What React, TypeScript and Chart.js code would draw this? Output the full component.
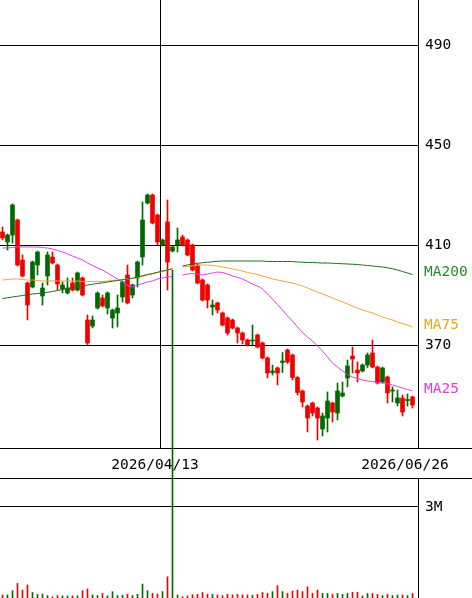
import React, { useEffect, useRef } from "react";
import { Chart, registerables } from "chart.js";

Chart.register(...registerables);

// ---- data (daily candles, oldest first) ----
const OPEN = [
  415.2, 411.2, 414.0, 420.0, 404.0, 394.8, 393.2, 402.0, 389.6, 397.6,
  405.2, 402.0, 392.4, 390.8, 394.8, 392.0, 396.8, 380.0, 377.6, 384.8,
  388.8, 384.8, 380.8, 382.8, 389.2, 398.0, 390.0, 396.8, 405.2, 426.8,
  430.0, 422.0, 410.0, 419.2, 407.6, 410.0, 413.2, 412.0, 410.0, 402.0,
  396.0, 394.0, 385.2, 386.8, 382.8, 380.8, 380.0, 376.8, 374.8, 372.0,
  371.6, 374.0, 370.8, 364.8, 359.0, 360.8, 363.0, 368.0, 366.0, 357.0,
  351.6, 345.6, 346.8, 344.8, 336.4, 340.8, 346.8, 342.8, 349.6, 356.8,
  365.6, 360.0, 359.6, 362.0, 366.8, 361.2, 355.2, 357.2, 351.6, 346.8,
  348.8, 347.8, 349.2,
];
const HIGH = [
  417.2, 414.4, 426.4, 420.4, 406.0, 395.2, 403.6, 407.6, 394.8, 407.2,
  407.2, 402.4, 395.2, 396.8, 396.8, 399.2, 397.2, 382.0, 381.6, 391.2,
  390.0, 391.2, 384.4, 390.0, 395.6, 402.0, 394.4, 403.6, 427.2, 430.4,
  430.4, 422.4, 412.4, 428.0, 409.6, 416.8, 414.0, 412.4, 410.4, 402.4,
  396.4, 394.4, 388.0, 387.2, 383.2, 381.2, 380.4, 377.2, 375.2, 372.4,
  378.0, 374.4, 371.2, 365.2, 362.0, 361.2, 367.0, 368.4, 366.4, 357.4,
  352.0, 346.0, 347.2, 345.2, 342.8, 351.2, 347.2, 354.8, 355.2, 364.0,
  369.2, 363.2, 362.4, 366.8, 372.0, 361.6, 361.2, 357.6, 353.2, 352.0,
  350.0, 350.4, 349.6,
];
const LOW = [
  412.0, 408.0, 410.8, 401.6, 397.2, 380.0, 392.8, 398.0, 386.0, 394.0,
  402.4, 392.0, 390.8, 390.4, 391.6, 391.6, 389.6, 370.0, 376.8, 384.4,
  385.2, 382.4, 376.8, 377.2, 387.2, 386.4, 388.8, 393.2, 402.0, 426.4,
  418.4, 410.0, 409.6, 392.0, 407.2, 407.2, 409.6, 405.6, 399.6, 394.4,
  387.6, 384.8, 382.0, 382.8, 377.6, 374.0, 376.4, 370.8, 370.4, 369.6,
  370.0, 368.8, 364.4, 356.8, 358.0, 354.0, 359.0, 362.6, 356.0, 350.0,
  345.2, 335.2, 341.6, 332.0, 333.6, 335.2, 339.2, 340.0, 349.2, 353.2,
  358.8, 355.2, 359.2, 361.0, 360.8, 354.4, 354.8, 346.8, 347.2, 345.6,
  341.6, 345.6, 344.8,
];
const CLOSE = [
  412.8, 414.0, 426.0, 402.0, 397.6, 386.0, 403.2, 407.2, 392.8, 406.0,
  402.8, 394.4, 394.0, 392.8, 392.0, 398.8, 390.0, 370.8, 380.0, 390.8,
  385.6, 390.8, 384.0, 384.8, 395.2, 386.8, 394.0, 403.2, 420.0, 430.0,
  418.8, 411.2, 412.0, 403.2, 409.2, 412.0, 410.0, 406.0, 400.0, 394.8,
  388.0, 388.0, 386.0, 384.0, 378.0, 374.8, 376.8, 374.8, 372.0, 370.0,
  372.0, 369.2, 364.8, 358.8, 359.6, 358.8, 363.6, 363.2, 357.0, 351.0,
  347.2, 340.8, 342.8, 340.8, 341.6, 347.6, 343.2, 351.6, 350.8, 361.6,
  364.4, 358.8, 362.0, 366.0, 361.2, 354.8, 360.8, 350.8, 352.0, 348.8,
  343.2, 348.2, 346.0,
];
const VOLUME = [
  100000, 100000, 240000, 480000, 260000, 430000, 180000, 120000, 130000, 80000,
  40000, 80000, 70000, 70000, 70000, 70000, 240000, 300000, 100000, 80000,
  150000, 70000, 210000, 80000, 90000, 120000, 80000, 120000, 460000, 240000,
  150000, 130000, 210000, 700000, 10800000, 100000, 40000, 70000, 110000, 120000,
  180000, 120000, 120000, 100000, 80000, 120000, 100000, 120000, 100000, 100000,
  90000, 120000, 180000, 150000, 210000, 410000, 210000, 150000, 230000, 260000,
  210000, 370000, 150000, 260000, 150000, 150000, 120000, 150000, 120000, 150000,
  190000, 190000, 70000, 150000, 150000, 120000, 80000, 120000, 80000, 100000,
  100000, 80000, 150000,
];
const MA25 = [
  408.8, 408.8, 409.0, 409.2, 409.2, 409.2, 409.2, 409.2, 409.0, 408.8,
  408.4, 407.8, 407.2, 406.4, 405.6, 404.8, 404.0, 402.8, 401.8, 400.8,
  400.0, 398.8, 397.6, 396.4, 395.2, 393.8, 393.2, 394.0, 394.6, 395.2,
  395.6, 396.4, 396.8, 397.2, 397.4, null, 398.0, 398.4, 398.6, 398.4,
  398.0, 398.4, 398.8, 399.2, 399.0, 398.4, 397.6, 397.0, 396.4, 395.4,
  394.4, 393.6, 392.4, 390.4, 388.4, 386.2, 384.0, 381.6, 379.6, 377.2,
  375.0, 373.2, 371.6, 369.6, 367.6, 365.2, 362.8, 361.2, 359.6, 358.2,
  357.2, 356.6, 356.0, 355.6, 355.4, 355.0, 354.8, 354.5, 354.0, 353.4,
  352.8, 352.2, 351.6,
];
const MA75 = [
  396.0, 396.2, 396.4, 396.4, 396.2, 396.0, 396.0, 395.8, 395.6, 395.6,
  395.6, 395.6, 395.6, 395.6, 395.6, 395.6, 395.4, 395.4, 395.4, 395.4,
  395.4, 395.6, 395.8, 396.0, 396.2, 396.4, 396.6, 397.0, 397.4, 398.0,
  398.4, 399.0, 399.4, 400.0, 400.6, null, 401.2, 401.4, 401.6, 401.8,
  402.0, 402.0, 401.8, 401.6, 401.2, 400.8, 400.4, 400.0, 399.6, 399.0,
  398.6, 398.2, 397.6, 397.0, 396.4, 396.0, 395.6, 395.2, 394.8, 394.2,
  393.6, 392.8, 392.0, 391.2, 390.4, 389.6, 388.8, 388.0, 387.2, 386.4,
  385.6, 384.8, 384.0, 383.4, 382.8, 382.0, 381.2, 380.6, 380.0, 379.2,
  378.6, 378.0, 377.2,
];
const MA200 = [
  388.6, 388.9, 389.2, 389.5, 389.8, 390.1, 390.4, 390.6, 390.8, 391.1,
  391.4, 391.8, 392.2, 392.6, 393.0, 393.4, 393.7, 394.0, 394.3, 394.6,
  394.9, 395.2, 395.5, 395.8, 396.1, 396.4, 396.7, 397.2, 397.7, 398.2,
  398.6, 399.1, 399.6, 400.0, 400.5, null, 401.6, 402.0, 402.4, 402.7,
  402.9, 403.1, 403.3, 403.5, 403.6, 403.6, 403.6, 403.6, 403.6, 403.6,
  403.6, 403.6, 403.6, 403.4, 403.4, 403.4, 403.4, 403.4, 403.4, 403.2,
  403.1, 403.0, 403.0, 402.9, 402.8, 402.8, 402.7, 402.6, 402.5, 402.4,
  402.3, 402.2, 402.0, 401.8, 401.6, 401.4, 401.2, 400.9, 400.5, 400.0,
  399.4, 398.8, 398.2,
];
const PRICE_TICKS = [370, 410, 450, 490];
const VOLUME_TICKS = [3000000];
const VOLUME_TICK_LABELS = ["3M"];
const DATE_TICK_INDEX = [32, 82];
const DATE_TICK_LABELS = ["2026/04/13", "2026/06/26"];
const MA_NAMES = ["MA200", "MA75", "MA25"];

// ---- styles / scale ranges ----
const RED = "#f20000";
const GREEN = "#006a00";
const MA_COLORS = ["#1f6b1f", "#f2a33a", "#dd40dd"];
const MA_LABEL_COLORS = ["#2a8a2a", "#eaa51c", "#e03ce0"];
const FONT = { family: "'DejaVu Sans Mono', monospace", size: 14.5 };
const X_MIN = -0.5;
const X_MAX = 83.1;
const PRICE_MIN = 328.8;
const PRICE_MAX = 508;
const VOLUME_AXIS_MAX = 3923000;

const idx = OPEN.map((_, i) => i);
const candleColor = idx.map((i) => (CLOSE[i] >= OPEN[i] ? GREEN : RED));

const zeroPad = (s: any) => {
  s.paddingTop = 0;
  s.paddingBottom = 0;
  s.paddingLeft = 0;
  s.paddingRight = 0;
};

export default function App() {
  const priceRef = useRef<HTMLCanvasElement>(null);
  const volRef = useRef<HTMLCanvasElement>(null);

  useEffect(() => {
    const maSeries = [MA200, MA75, MA25];

    const framePlugin = {
      id: "frame",
      afterDraw(chart: any) {
        const { ctx, chartArea, scales } = chart;
        ctx.save();
        ctx.strokeStyle = "#000";
        ctx.lineWidth = 1;
        const y1 = Math.round(chartArea.bottom) + 0.5;
        const y2 = Math.round(scales.x.bottom) + 0.5;
        ctx.beginPath();
        ctx.moveTo(0, y1);
        ctx.lineTo(chart.width, y1);
        ctx.moveTo(0, y2);
        ctx.lineTo(chart.width, y2);
        ctx.stroke();
        ctx.font = `${FONT.size}px ${FONT.family}`;
        ctx.textAlign = "left";
        ctx.textBaseline = "middle";
        maSeries.forEach((s, j) => {
          const last = s[s.length - 1] as number;
          const py = scales.y.getPixelForValue(last) - 2;
          ctx.fillStyle = MA_LABEL_COLORS[j];
          ctx.fillText(MA_NAMES[j], chartArea.right + 6, py);
        });
        ctx.restore();
      },
    };

    const maDatasets = maSeries.map((s, j) => ({
      type: "line" as const,
      label: MA_NAMES[j],
      data: idx.map((i) => ({ x: i, y: s[i] })),
      borderColor: MA_COLORS[j],
      borderWidth: 1,
      pointRadius: 0,
      tension: 0,
      spanGaps: false,
      order: 1,
    }));

    const price = new Chart(priceRef.current as HTMLCanvasElement, {
      type: "bar",
      data: {
        datasets: [
          {
            type: "bar",
            label: "wick",
            data: idx.map((i) => ({ x: i, y: [LOW[i], HIGH[i]] })) as any,
            backgroundColor: candleColor,
            barThickness: 1,
            grouped: false,
            order: 3,
          },
          {
            type: "bar",
            label: "body",
            data: idx.map((i) => ({ x: i, y: [OPEN[i], CLOSE[i]] })) as any,
            backgroundColor: candleColor,
            barThickness: 4,
            minBarLength: 1,
            grouped: false,
            order: 2,
          },
          ...maDatasets,
        ] as any,
      },
      options: {
        animation: false,
        responsive: false,
        devicePixelRatio: 1,
        layout: { padding: { left: 0, right: 0, top: 0, bottom: 120 } },
        plugins: { legend: { display: false }, tooltip: { enabled: false } },
        scales: {
          x: {
            type: "linear",
            min: X_MIN,
            max: X_MAX,
            offset: false,
            position: "bottom",
            afterBuildTicks: (s: any) => {
              s.ticks = DATE_TICK_INDEX.map((i) => ({ value: i - 0.5 }));
            },
            afterFit: (s: any) => {
              s.height = 30;
              zeroPad(s);
            },
            ticks: {
              autoSkip: false,
              maxRotation: 0,
              padding: 9,
              labelOffset: -5,
              color: "#000",
              font: FONT,
              callback: (_v: any, i: number) => DATE_TICK_LABELS[i],
            },
            grid: {
              offset: false,
              color: (c: any) => (c.index === 0 ? "#000" : "rgba(0,0,0,0)"),
              drawTicks: false,
              lineWidth: 1,
            },
            border: { display: false },
          },
          y: {
            type: "linear",
            position: "right",
            min: PRICE_MIN,
            max: PRICE_MAX,
            afterBuildTicks: (s: any) => {
              s.ticks = PRICE_TICKS.map((v) => ({ value: v }));
            },
            afterFit: (s: any) => {
              s.width = 54;
              zeroPad(s);
            },
            ticks: {
              padding: 7,
              color: "#000",
              font: FONT,
              callback: (v: any) => String(v),
            },
            grid: { color: "#000", drawTicks: false, lineWidth: 1 },
            border: { display: true, color: "#000", width: 1 },
          },
        },
      } as any,
      plugins: [framePlugin],
    });

    const volume = new Chart(volRef.current as HTMLCanvasElement, {
      type: "bar",
      data: {
        datasets: [
          {
            label: "volume",
            data: idx.map((i) => ({ x: i, y: VOLUME[i] })) as any,
            backgroundColor: candleColor,
            barThickness: 1,
            grouped: false,
            clip: false,
          },
        ] as any,
      },
      options: {
        animation: false,
        responsive: false,
        devicePixelRatio: 1,
        layout: { padding: { left: 0, right: 0, top: 479, bottom: 0 } },
        plugins: { legend: { display: false }, tooltip: { enabled: false } },
        scales: {
          x: { type: "linear", min: X_MIN, max: X_MAX, offset: false, display: false },
          y: {
            type: "linear",
            position: "right",
            min: 0,
            max: VOLUME_AXIS_MAX,
            afterBuildTicks: (s: any) => {
              s.ticks = VOLUME_TICKS.map((v) => ({ value: v }));
            },
            afterFit: (s: any) => {
              s.width = 54;
              zeroPad(s);
            },
            ticks: {
              padding: 7,
              color: "#000",
              font: FONT,
              callback: (_v: any, i: number) => VOLUME_TICK_LABELS[i],
            },
            grid: { color: "#000", drawTicks: false, lineWidth: 1 },
            border: { display: true, color: "#000", width: 1 },
          },
        },
      } as any,
    });

    return () => {
      price.destroy();
      volume.destroy();
    };
  }, []);

  return (
    <div style={{ position: "absolute", left: 0, top: 0, width: 472, height: 598, background: "#fff" }}>
      <canvas ref={priceRef} width={472} height={598} style={{ position: "absolute", left: 0, top: 0 }} />
      <canvas ref={volRef} width={472} height={598} style={{ position: "absolute", left: 0, top: 0 }} />
    </div>
  );
}
